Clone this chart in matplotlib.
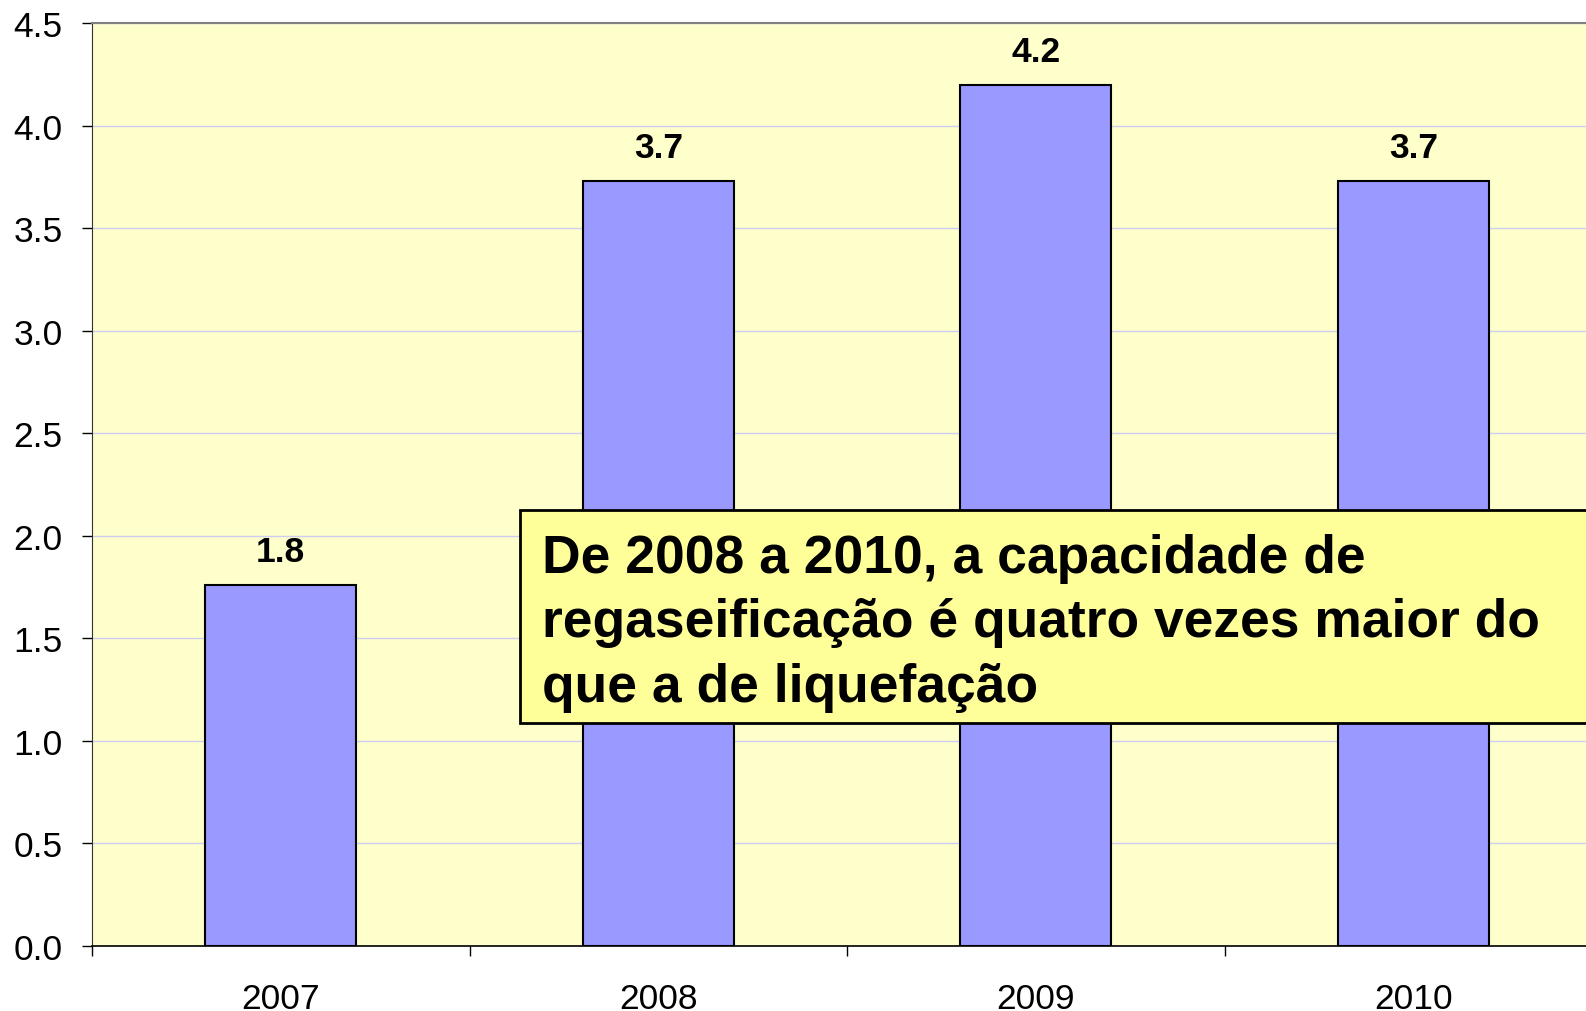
import matplotlib
matplotlib.use("Agg")
import matplotlib.pyplot as plt
from matplotlib.patches import Rectangle
import numpy as np

years = ["2007", "2008", "2009", "2010"]
values = [1.76, 3.73, 4.20, 3.73]
value_labels = ["1.8", "3.7", "4.2", "3.7"]
y_ticks = [0.0, 0.5, 1.0, 1.5, 2.0, 2.5, 3.0, 3.5, 4.0, 4.5]
note_lines = ["De 2008 a 2010, a capacidade de",
              "regaseificação é quatro vezes maior do",
              "que a de liquefação"]

plt.rcParams['font.family'] = ['Liberation Sans', 'DejaVu Sans']

W, H = 1586, 1012
fig = plt.figure(figsize=(W / 100, H / 100), dpi=100)
left_px, right_px, top_px, bottom_px = 92, 1602, 24, 947
ax = fig.add_axes([left_px / W, 1 - bottom_px / H,
                   (right_px - left_px) / W, (bottom_px - top_px) / H])
ax.set_facecolor("#FFFFCC")

x = np.arange(len(years))
ax.bar(x, values, width=0.40, color="#9999FF", edgecolor="black",
       linewidth=1.5, zorder=3)
for xi, v, lab in zip(x, values, value_labels):
    ax.annotate(lab, (xi, v), xytext=(0, 17), textcoords="offset points",
                ha="center", va="baseline", fontsize=25.5, fontweight="bold",
                zorder=4)

ax.set_xlim(-0.5, len(years) - 0.5)
ax.set_ylim(0, 4.5)
ax.set_yticks(y_ticks)
ax.set_yticklabels([f"{t:.1f}" for t in y_ticks], fontsize=25.5)
ax.yaxis.grid(True, color="#CDCDF2", linewidth=1.0, zorder=0)
ax.set_axisbelow(True)

ax.set_xticks(np.arange(len(years) + 1) - 0.5)
ax.set_xticklabels([])
ax.set_xticks(x, minor=True)
ax.set_xticklabels(years, minor=True, fontsize=25.5)
ax.tick_params(axis="x", which="major", length=7, width=1, direction="out")
ax.tick_params(axis="x", which="minor", length=0, pad=26)
ax.tick_params(axis="y", length=7, width=1, pad=14)

ax.spines["top"].set_color("#808080")
ax.spines["top"].set_linewidth(1.5)
ax.spines["right"].set_visible(False)
ax.spines["left"].set_color("#333333")
ax.spines["bottom"].set_color("black")
ax.spines["bottom"].set_linewidth(1.2)

# annotation box
bx0, by0, bx1, by1 = 520, 511, 1600, 724
fig.patches.append(Rectangle((bx0 / W, 1 - by1 / H), (bx1 - bx0) / W,
                             (by1 - by0) / H, transform=fig.transFigure,
                             facecolor="#FFFF99", edgecolor="black",
                             linewidth=2, zorder=5))
baselines = [573, 637.5, 702]
for line, yb in zip(note_lines, baselines):
    fig.text(542 / W, 1 - yb / H, line, ha="left", va="baseline",
             fontsize=38.4, fontweight="bold", zorder=6)

fig.savefig("out.png", dpi=100)
